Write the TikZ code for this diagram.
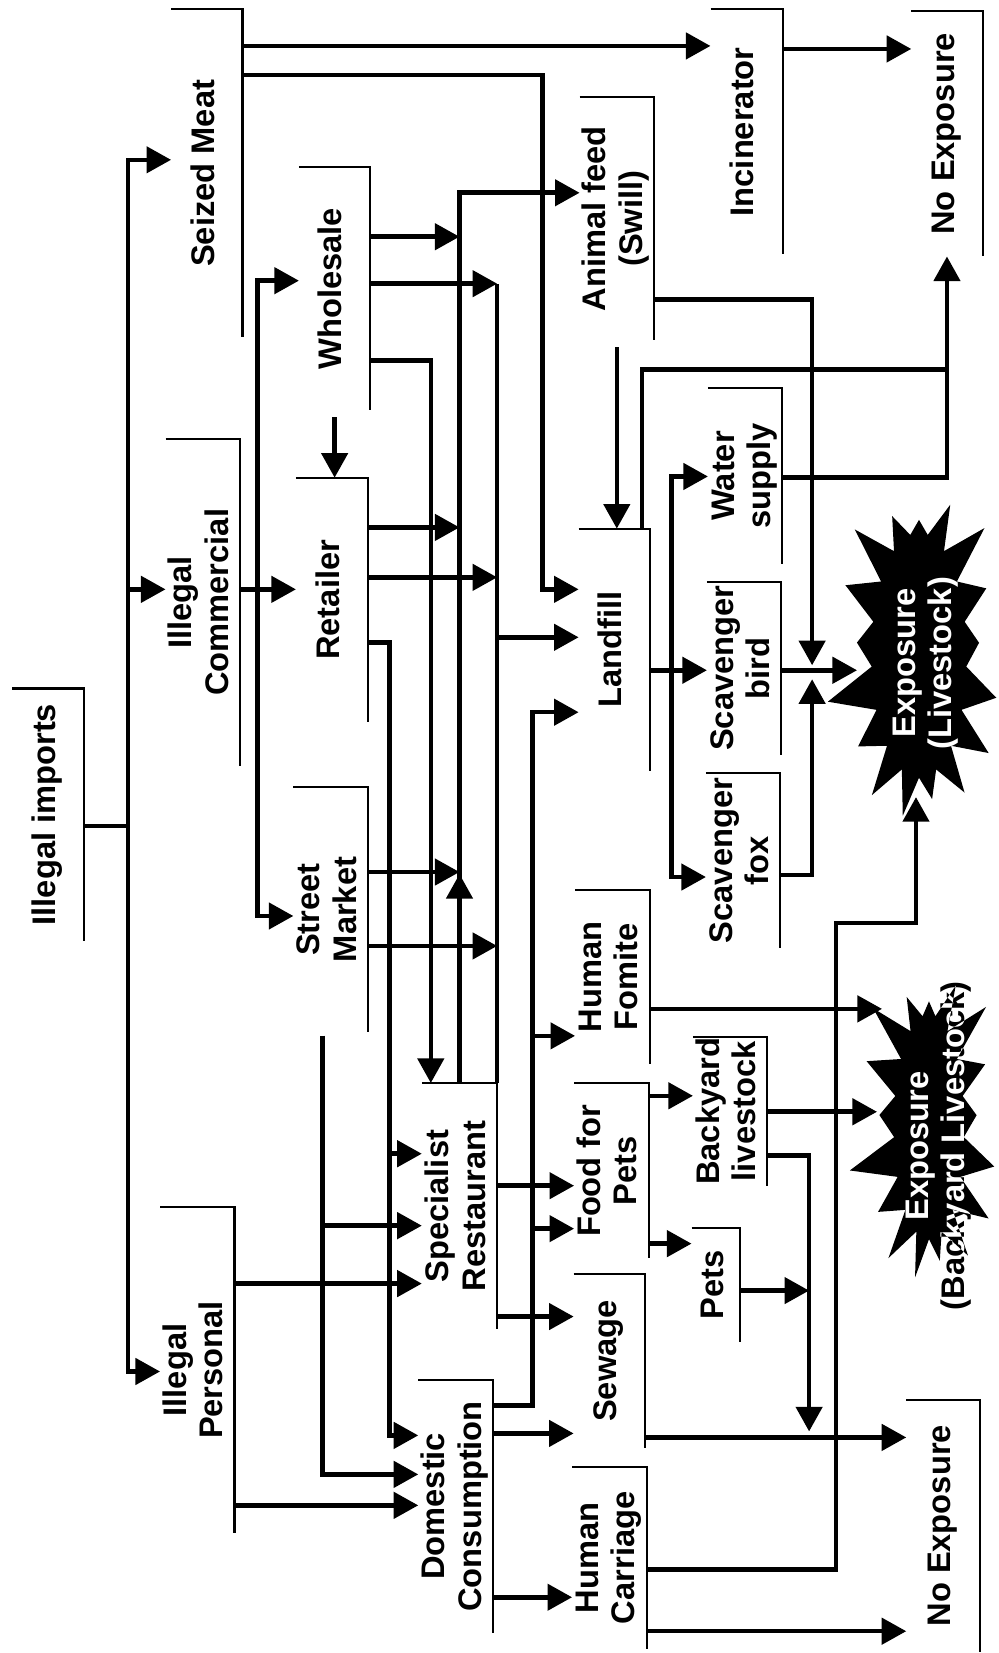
\documentclass[tikz,border=0pt]{standalone}
\usepackage{fontspec}
\setmainfont{Liberation Sans}
\usepackage{graphicx}
\usetikzlibrary{arrows.meta,calc,shapes.symbols}
\newcommand{\rottext}[1]{\rotatebox{90}{\begin{tabular}{@{}c@{}}#1\end{tabular}}}
\tikzset{
  stage/.style={inner sep=0pt, font=\bfseries\fontsize{9.3}{10.4}\selectfont},
  frame/.style={line width=0.6pt, draw=black},
  flow/.style={-{Triangle[length=7pt,width=7.4pt]}, line width=1.3pt},
  link/.style={line width=1.3pt},
  burst/.style={starburst, starburst points=17, starburst point height=0.5cm,
    random starburst=23, fill=white, inner sep=0pt}
}

\begin{document}
\begin{tikzpicture}[x=0.01cm,y=-0.01cm]
  \fill[white] (0,0) rectangle (1000,1653);

  \node[stage,minimum width=0.70cm,minimum height=2.51cm] (imports) at (48,815.5) {\rottext{Illegal imports}};
  \node[stage,minimum width=0.70cm,minimum height=3.27cm] (seized) at (207,173.5) {\rottext{Seized Meat}};
  \node[stage,minimum width=0.70cm,minimum height=3.26cm] (commercial) at (203,603) {\rottext{Illegal\\Commercial}};
  \node[stage,minimum width=0.70cm,minimum height=3.25cm] (personal) at (197.5,1371.5) {\rottext{Illegal\\Personal}};
  \node[stage,minimum width=0.70cm,minimum height=2.42cm] (wholesale) at (335,289) {\rottext{Wholesale}};
  \node[stage,minimum width=0.71cm,minimum height=2.43cm] (retailer) at (332.5,600.5) {\rottext{Retailer}};
  \node[stage,minimum width=0.72cm,minimum height=2.43cm] (street) at (331,910.5) {\rottext{Street\\Market}};
  \node[stage,minimum width=0.74cm,minimum height=2.45cm] (special) at (460,1207.5) {\rottext{Specialist\\Restaurant}};
  \node[stage,minimum width=0.68cm,minimum height=2.52cm] (domestic) at (456,1508) {\rottext{Domestic\\Consumption}};
  \node[stage,minimum width=0.71cm,minimum height=2.44cm] (incin) at (747.5,132) {\rottext{Incinerator}};
  \node[stage,minimum width=0.70cm,minimum height=2.44cm] (noexptop) at (948,134) {\rottext{No Exposure}};
  \node[stage,minimum width=0.71cm,minimum height=2.42cm] (animal) at (617.5,219) {\rottext{Animal feed\\(Swill)}};
  \node[stage,minimum width=0.70cm,minimum height=2.41cm] (landfill) at (615,650.5) {\rottext{Landfill}};
  \node[stage,minimum width=0.72cm,minimum height=1.75cm] (water) at (746,476.5) {\rottext{Water\\supply}};
  \node[stage,minimum width=0.70cm,minimum height=1.72cm] (bird) at (745,669) {\rottext{Scavenger\\bird}};
  \node[stage,minimum width=0.72cm,minimum height=1.73cm] (fox) at (744,861.5) {\rottext{Scavenger\\fox}};
  \node[stage,minimum width=0.70cm,minimum height=1.72cm] (fomite) at (613,978) {\rottext{Human\\Fomite}};
  \node[stage,minimum width=0.70cm,minimum height=1.74cm] (food) at (612,1172) {\rottext{Food for\\Pets}};
  \node[stage,minimum width=0.72cm,minimum height=1.45cm] (backyard) at (731,1112.5) {\rottext{Backyard\\livestock}};
  \node[stage,minimum width=0.47cm,minimum height=1.13cm] (pets) at (716.5,1286.5) {\rottext{Pets}};
  \node[stage,minimum width=0.70cm,minimum height=1.73cm] (sewage) at (610,1362.5) {\rottext{Sewage}};
  \node[stage,minimum width=0.70cm,minimum height=1.81cm] (carriage) at (610,1559.5) {\rottext{Human\\Carriage}};
  \node[stage,minimum width=0.72cm,minimum height=2.51cm] (noexpbot) at (944,1527.5) {\rottext{No Exposure}};

  \node[stage] (exp1) at (927,664) {\rottext{Exposure\\(Livestock)}};
  \node[stage] (exp2) at (940,1147) {\rottext{Exposure\\(Backyard Livestock)}};
  \begin{scope}[blend mode=difference]
    \node[burst,minimum width=1.95cm,minimum height=3.45cm] (star1) at (920,656) {};
    \node[burst,minimum width=1.70cm,minimum height=3.25cm] (star2) at (930,1128) {};
  \end{scope}

  \foreach \n in {imports,seized,commercial,personal,wholesale,retailer,street,special,domestic,
    incin,noexptop,animal,landfill,water,bird,fox,fomite,food,backyard,pets,sewage,carriage,noexpbot}
    \draw[frame] (\n.north west) -- (\n.north east) -- (\n.south east);

  \coordinate (ibus) at (128,827);
  \draw[link] (imports.east |- ibus) -- (ibus);
  \draw[flow] (ibus) |- (seized.west |- 0,160);
  \draw[flow] (ibus |- 0,590) -- (commercial.west |- 0,590);
  \draw[flow] (ibus) |- (personal.west |- 0,1373);

  \draw[flow] (seized.east |- 0,46) -- (incin.west |- 0,46);
  \draw[flow] (seized.east |- 0,75) -| (543,590) -- (landfill.west |- 0,590);
  \draw[flow] (incin.east |- 0,49) -- (noexptop.west |- 0,49);

  \coordinate (cbus) at (258,590);
  \draw[flow] (commercial.east |- cbus) -- (retailer.west |- cbus);
  \draw[flow] (cbus) |- (wholesale.west |- 0,281);
  \draw[flow] (cbus) |- (street.west |- 0,917);
  \draw[flow,shorten <=2pt] (wholesale.south) -- (wholesale.south |- retailer.north);

  \draw[flow] (special.north) |- (animal.west |- 0,193);
  \draw[flow] (special.north) -- (special.north |- 0,875);
  \draw[flow] (wholesale.east |- 0,237) -- (special.north |- 0,237);
  \draw[flow] (retailer.east |- 0,528) -- (special.north |- 0,528);
  \draw[flow] (street.east |- 0,873) -- (special.north |- 0,873);

  \draw[link] (special.north east) -- (special.north east |- 0,284);
  \draw[flow] (special.north east |- 0,638) -- (landfill.west |- 0,638);
  \draw[flow] (wholesale.east |- 0,284) -- (special.north east |- 0,284);
  \draw[flow] (retailer.east |- 0,578) -- (special.north east |- 0,578);
  \draw[flow] (street.east |- 0,947) -- (special.north east |- 0,947);
  \draw[flow] (wholesale.east |- 0,361) -| ($(special.north west)+(9,0)$);

  \draw[flow] (retailer.east |- 0,643) -| (390,1437) -- (domestic.west |- 0,1437);
  \draw[flow] (390,1155) -- (special.west |- 0,1155);
  \coordinate (sbus) at ($(street.south)+(-8,4)$);
  \draw[flow] (sbus) |- (domestic.west |- 0,1476);
  \draw[flow] (sbus |- 0,1227) -- (special.west |- 0,1227);
  \draw[flow] (personal.east |- 0,1285) -- (special.west |- 0,1285);
  \draw[flow] (personal.east |- 0,1507) -- (domestic.west |- 0,1507);

  \draw[flow] (special.east |- 0,1187) -- (food.west |- 0,1187);
  \draw[flow] (special.east |- 0,1318) -- (sewage.west |- 0,1318);
  \draw[flow] (domestic.east |- 0,1407) -| (533,713) -- (landfill.west |- 0,713);
  \draw[flow] (533,1037) -- (fomite.west |- 0,1037);
  \draw[flow] (533,1230) -- (food.west |- 0,1230);
  \draw[flow] (domestic.east |- 0,1435) -- (sewage.west |- 0,1435);
  \draw[flow] (domestic.east |- 0,1599) -- (carriage.west |- 0,1599);

  \draw[flow,shorten <=2pt] (animal.south) -- (animal.south |- landfill.north);
  \draw[flow] (animal.east |- 0,300) -| (813,666);
  \draw[flow] ($(landfill.north east)+(-8,0)$) |- (noexptop.south |- 0,370) -- (noexptop.south);
  \draw[link] (water.east |- 0,478) -| (noexptop.south |- 0,370);
  \draw[flow] (landfill.east |- 0,671) -- (bird.west |- 0,671);
  \draw[flow] (672,671) |- (water.west |- 0,477);
  \draw[flow] (672,671) |- (fox.west |- 0,878);

  \draw[flow] (bird.east |- 0,671) -- ($(star1.center)+(-62,15)$);
  \draw[flow] (fox.east |- 0,876) -| (813,680);
  \draw[flow] (carriage.east |- 0,1571) -| (837,924) -| ($(star1.center)+(-3,142)$);
  \draw[flow] (carriage.east |- 0,1633) -- (noexpbot.west |- 0,1633);
  \draw[flow] (fomite.east |- 0,1010) -- ($(star2.center)+(-47,-118)$);
  \draw[flow] (backyard.east |- 0,1113) -- ($(star2.center)+(-52,-15)$);
  \draw[flow] (backyard.east |- 0,1157) -| (810,1433);
  \draw[flow] (pets.east |- 0,1292) -- (810,1292);
  \draw[flow] (sewage.east |- 0,1439) -- (noexpbot.west |- 0,1439);
  \draw[flow] (food.east |- 0,1097) -- (backyard.west |- 0,1097);
  \draw[flow] (food.east |- 0,1245) -- (pets.west |- 0,1245);
\end{tikzpicture}
\end{document}
